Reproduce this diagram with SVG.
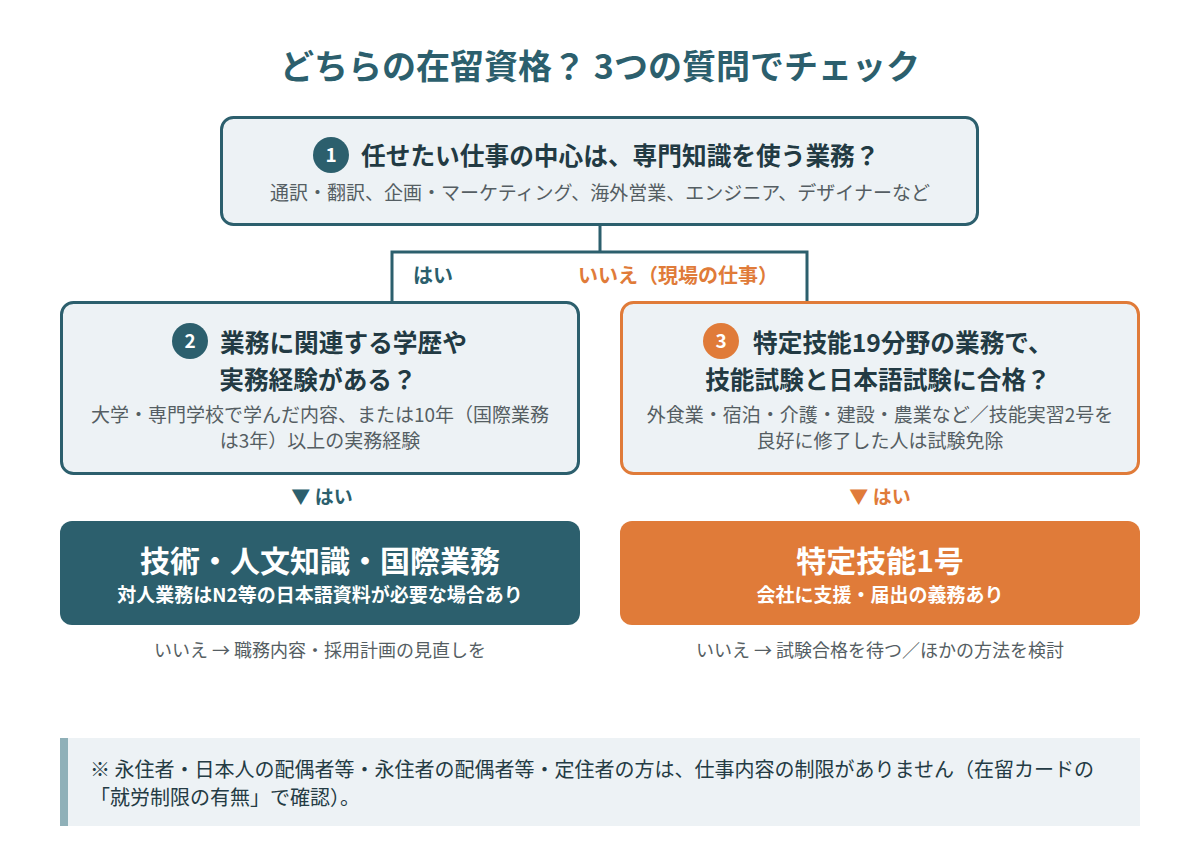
<svg xmlns="http://www.w3.org/2000/svg" width="1200" height="860" viewBox="0 0 1200 860">
<style>
text{font-family:"Noto Sans CJK JP","Noto Sans",sans-serif;}
.q{fill:#edf2f5;stroke-width:3;}
.qt{stroke:#2c5f6d;}
.qo{stroke:#e07b39;}
.qtitle{font-size:24.7px;font-weight:700;fill:#223a43;}
.qsub{font-size:19px;fill:#555e63;text-anchor:middle;}
.num{font-size:19px;font-weight:700;fill:#fff;text-anchor:middle;}
.conn{fill:none;stroke:#2c5f6d;stroke-width:3;}
.lbl{font-size:20px;font-weight:700;}
.res{font-size:30px;font-weight:700;fill:#fff;text-anchor:middle;}
.ressub{font-size:19px;font-weight:700;fill:#fff;text-anchor:middle;}
.no{font-size:18px;fill:#555e63;text-anchor:middle;}
</style>
<rect width="1200" height="860" fill="#ffffff"/>
<text x="600" y="79" text-anchor="middle" style="font-size:34px;font-weight:700;fill:#2c5f6d">どちらの在留資格？ 3つの質問でチェック</text>

<g id="connectors">
<path class="conn" d="M600,225 V252 M392,302 V252 H807 V302"/>
<text class="lbl" x="413" y="283" fill="#2c5f6d">はい</text>
<text class="lbl" x="578" y="283" fill="#e07b39">いいえ（現場の仕事）</text>
<text class="lbl" x="322" y="504" fill="#2c5f6d" text-anchor="middle" style="font-size:19px">▼ はい</text>
<text class="lbl" x="880" y="504" fill="#e07b39" text-anchor="middle" style="font-size:19px">▼ はい</text>
</g>

<g id="q1">
<rect class="q qt" x="221.5" y="117.5" width="756" height="107" rx="12"/>
<circle cx="331" cy="155" r="18" fill="#2c5f6d"/>
<text class="num" x="331" y="162">1</text>
<text class="qtitle" x="361" y="165">任せたい仕事の中心は、専門知識を使う業務？</text>
<text class="qsub" x="600" y="200">通訳・翻訳、企画・マーケティング、海外営業、エンジニア、デザイナーなど</text>
</g>

<g id="q2">
<rect class="q qt" x="61.5" y="302.5" width="517" height="171" rx="12"/>
<circle cx="190" cy="341" r="18" fill="#2c5f6d"/>
<text class="num" x="190" y="348">2</text>
<text class="qtitle" x="220" y="352">業務に関連する学歴や</text>
<text class="qtitle" x="318" y="389" text-anchor="middle">実務経験がある？</text>
<text class="qsub" x="320" y="422">大学・専門学校で学んだ内容、または10年（国際業務</text>
<text class="qsub" x="320" y="448">は3年）以上の実務経験</text>
</g>

<g id="q3">
<rect class="q qo" x="621.5" y="302.5" width="517" height="171" rx="12"/>
<circle cx="721" cy="341" r="18" fill="#e07b39"/>
<text class="num" x="721" y="348">3</text>
<text class="qtitle" x="753" y="352">特定技能19分野の業務で、</text>
<text class="qtitle" x="878" y="389" text-anchor="middle">技能試験と日本語試験に合格？</text>
<text class="qsub" x="880" y="422">外食業・宿泊・介護・建設・農業など／技能実習2号を</text>
<text class="qsub" x="880" y="448">良好に修了した人は試験免除</text>
</g>

<g id="r1">
<rect x="60" y="521" width="520" height="104" rx="12" fill="#2c5f6d"/>
<text class="res" x="320" y="572">技術・人文知識・国際業務</text>
<text class="ressub" x="320" y="602">対人業務はN2等の日本語資料が必要な場合あり</text>
<text class="no" x="320" y="657">いいえ → 職務内容・採用計画の見直しを</text>
</g>

<g id="r2">
<rect x="620" y="521" width="520" height="104" rx="12" fill="#e07b39"/>
<text class="res" x="880" y="572">特定技能1号</text>
<text class="ressub" x="880" y="602">会社に支援・届出の義務あり</text>
<text class="no" x="880" y="657">いいえ → 試験合格を待つ／ほかの方法を検討</text>
</g>

<g id="note">
<rect x="60" y="738" width="1080" height="88" fill="#edf2f5"/>
<rect x="60" y="738" width="8" height="88" fill="#8fb0b8"/>
<text x="90" y="777" style="font-size:20px;fill:#243b44">※ 永住者・日本人の配偶者等・永住者の配偶者等・定住者の方は、仕事内容の制限がありません（在留カードの</text>
<text x="90" y="805" style="font-size:20px;fill:#243b44">「就労制限の有無」で確認）。</text>
</g>
</svg>
